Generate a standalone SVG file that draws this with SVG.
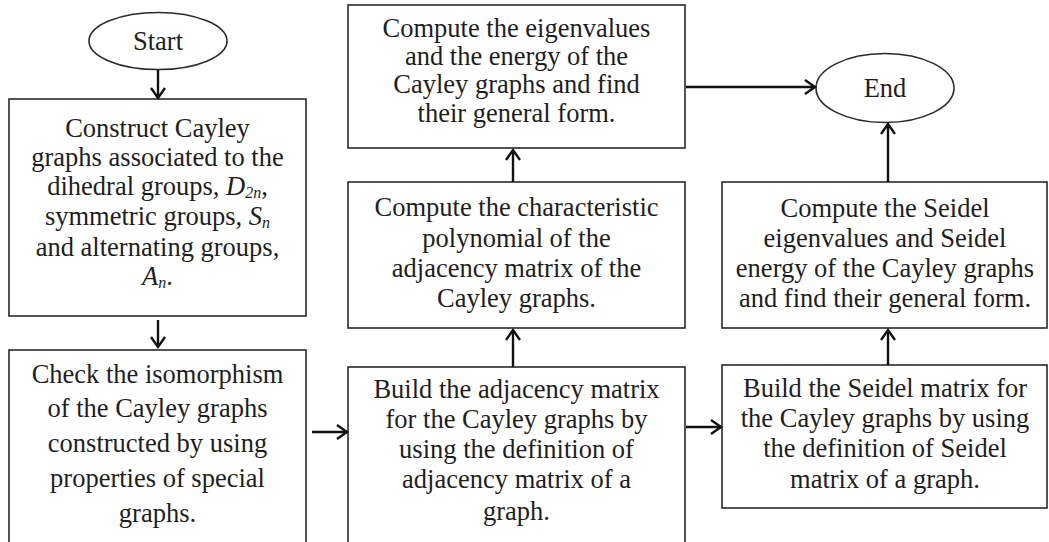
<svg xmlns="http://www.w3.org/2000/svg" width="1049" height="542" viewBox="0 0 1049 542">
<style>
.box{fill:#ffffff;stroke:#2a2a2a;stroke-width:1.6}
.t{font-family:"Liberation Serif","Times New Roman",serif;font-size:26.5px;fill:#1e1e1e;text-anchor:middle}
.m{font-style:italic}
.sub{font-style:italic;font-size:16px}
.c{fill:none;stroke:#111;stroke-width:2.4}
</style>
<defs>
<marker id="ah" markerUnits="userSpaceOnUse" markerWidth="14" markerHeight="18" refX="11" refY="8" orient="auto" viewBox="0 0 14 16">
<path d="M1,1 L11,8 L1,15" fill="none" stroke="#111" stroke-width="2.4"/>
</marker>
</defs>
<rect width="1049" height="542" fill="#ffffff"/>

<g id="start">
<ellipse cx="158" cy="41" rx="69" ry="28.5" class="box"/>
<text class="t" x="158" y="50">Start</text>
</g>

<g id="construct">
<rect x="9" y="99" width="297" height="217" class="box"/>
<text class="t" x="157.5" y="137">Construct Cayley</text>
<text class="t" x="157.5" y="166">graphs associated to the</text>
<text class="t" x="157.5" y="195">dihedral groups, <tspan class="m">D</tspan><tspan class="sub" dy="3">2n</tspan><tspan dy="-3">,</tspan></text>
<text class="t" x="157.5" y="225">symmetric groups, <tspan class="m">S</tspan><tspan class="sub" dy="3">n</tspan></text>
<text class="t" x="157.5" y="256">and alternating  groups,</text>
<text class="t" x="157.5" y="285"><tspan class="m">A</tspan><tspan class="sub" dy="3">n</tspan><tspan dy="-3">.</tspan></text>
</g>

<g id="isomorphism">
<rect x="9" y="350" width="297" height="200" class="box"/>
<text class="t" x="157.5" y="383">Check the isomorphism</text>
<text class="t" x="157.5" y="417">of the Cayley graphs</text>
<text class="t" x="157.5" y="452">constructed by using</text>
<text class="t" x="157.5" y="487">properties of special</text>
<text class="t" x="157.5" y="522">graphs.</text>
</g>

<g id="eigen">
<rect x="348" y="5" width="337" height="143" class="box"/>
<text class="t" x="516.5" y="37">Compute the eigenvalues</text>
<text class="t" x="516.5" y="65">and the energy of the</text>
<text class="t" x="516.5" y="93">Cayley graphs and find</text>
<text class="t" x="516.5" y="122">their general form.</text>
</g>

<g id="charpoly">
<rect x="348" y="182" width="337" height="146" class="box"/>
<text class="t" x="516.5" y="216">Compute the characteristic</text>
<text class="t" x="516.5" y="247">polynomial of the</text>
<text class="t" x="516.5" y="277">adjacency matrix of the</text>
<text class="t" x="516.5" y="307">Cayley graphs.</text>
</g>

<g id="adjacency">
<rect x="348" y="367" width="337" height="183" class="box"/>
<text class="t" x="516.5" y="398">Build the adjacency matrix</text>
<text class="t" x="516.5" y="428">for the Cayley graphs by</text>
<text class="t" x="516.5" y="458">using the definition of</text>
<text class="t" x="516.5" y="488">adjacency matrix of a</text>
<text class="t" x="516.5" y="520">graph.</text>
</g>

<g id="end">
<ellipse cx="885" cy="88" rx="69" ry="34.5" class="box"/>
<text class="t" x="885" y="97">End</text>
</g>

<g id="seideleigen">
<rect x="722" y="182" width="325" height="146" class="box"/>
<text class="t" x="885" y="217">Compute the Seidel</text>
<text class="t" x="885" y="247">eigenvalues and Seidel</text>
<text class="t" x="885" y="277">energy of the Cayley graphs</text>
<text class="t" x="885" y="307">and find their general form.</text>
</g>

<g id="seidelmatrix">
<rect x="722" y="365" width="325" height="143" class="box"/>
<text class="t" x="885" y="397">Build the Seidel matrix for</text>
<text class="t" x="885" y="427">the Cayley graphs by using</text>
<text class="t" x="885" y="457">the definition of Seidel</text>
<text class="t" x="885" y="488">matrix of a graph.</text>
</g>

<g id="connectors">
<line class="c" x1="158" y1="70" x2="158" y2="98" marker-end="url(#ah)"/>
<line class="c" x1="158" y1="320" x2="158" y2="347" marker-end="url(#ah)"/>
<line class="c" x1="312" y1="432" x2="347" y2="432" marker-end="url(#ah)"/>
<line class="c" x1="513" y1="367" x2="513" y2="330" marker-end="url(#ah)"/>
<line class="c" x1="513" y1="182" x2="513" y2="150" marker-end="url(#ah)"/>
<line class="c" x1="686" y1="87" x2="815" y2="87" marker-end="url(#ah)"/>
<line class="c" x1="686" y1="427" x2="721" y2="427" marker-end="url(#ah)"/>
<line class="c" x1="888" y1="365" x2="888" y2="330" marker-end="url(#ah)"/>
<line class="c" x1="888" y1="182" x2="888" y2="124" marker-end="url(#ah)"/>
</g>
</svg>
